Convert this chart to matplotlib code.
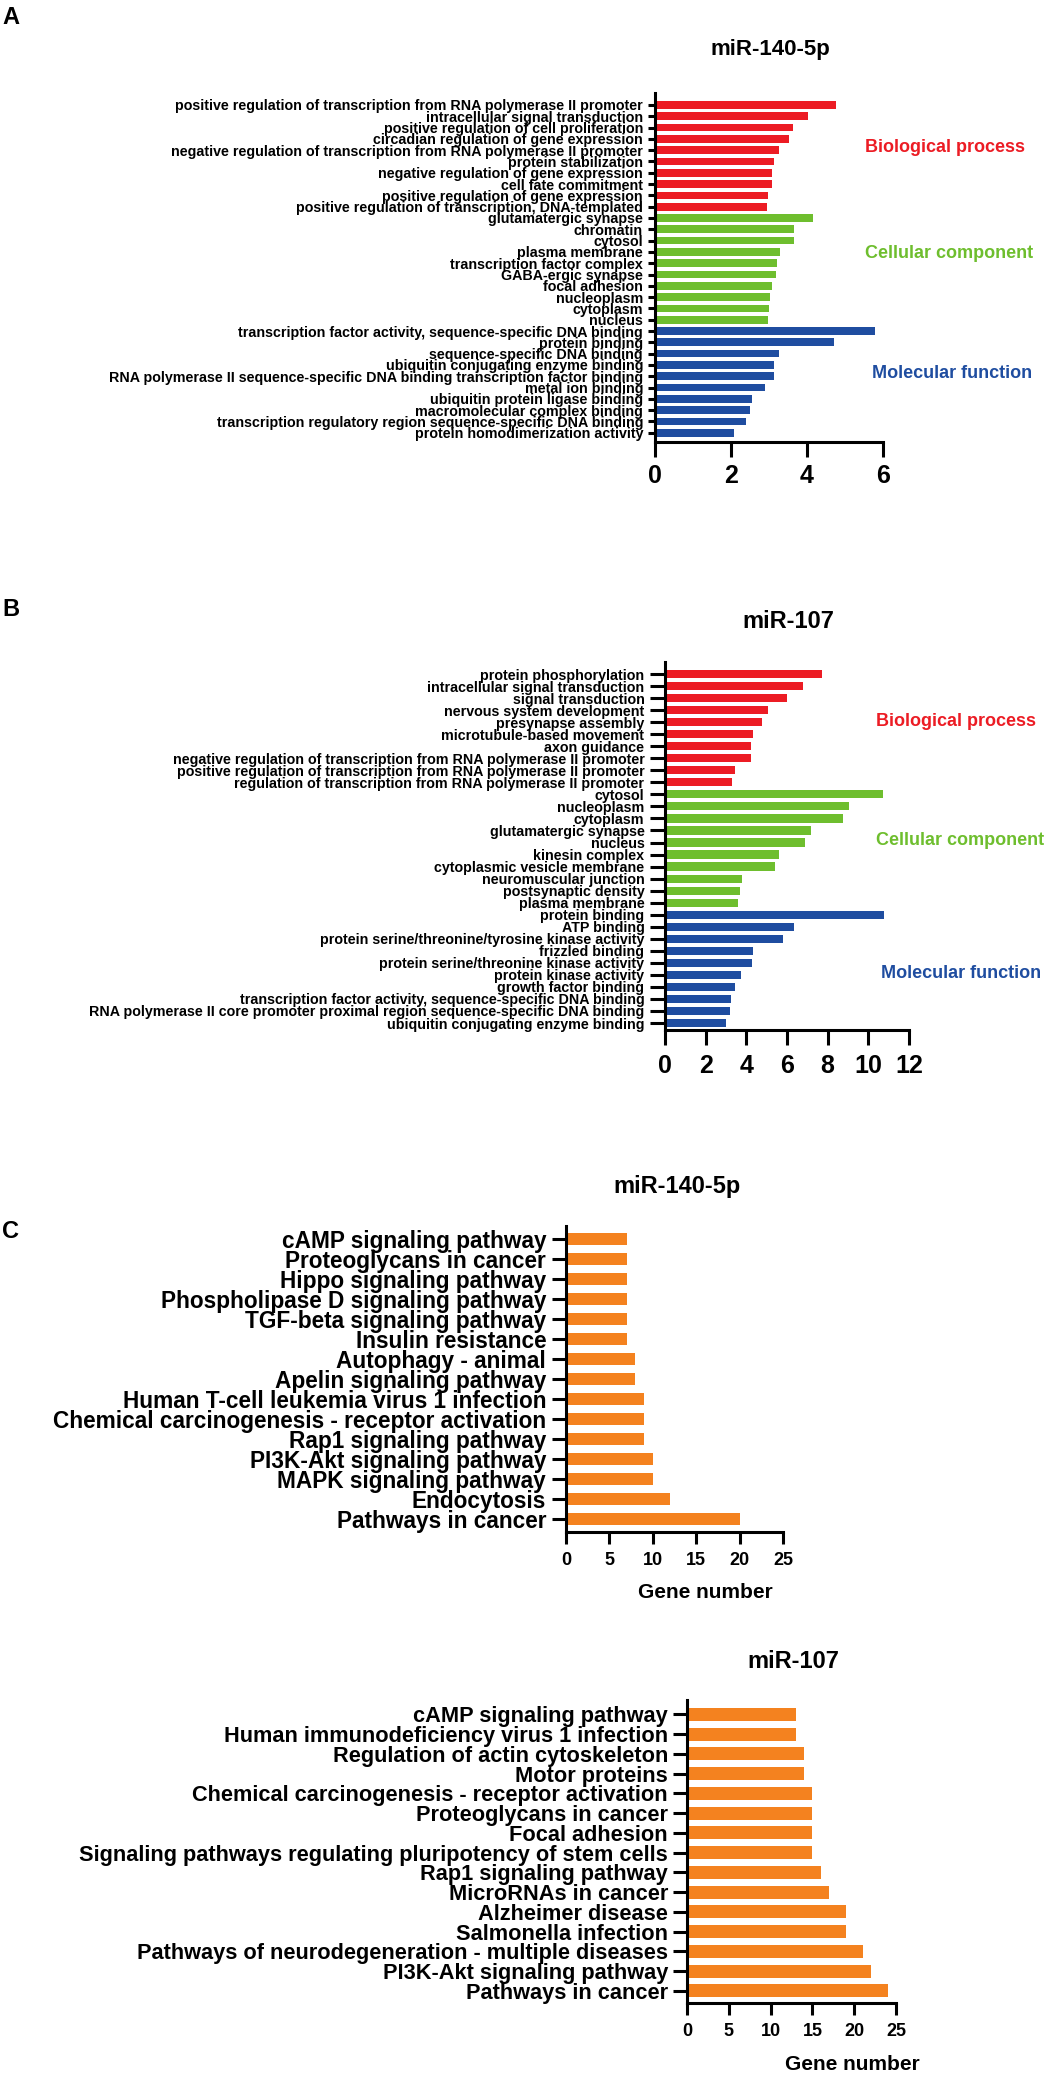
import matplotlib
matplotlib.use("Agg")
import matplotlib.pyplot as plt
import numpy as np

plt.rcParams['font.family'] = ['Liberation Sans', 'DejaVu Sans']
plt.rcParams['font.weight'] = 'bold'

# ---------------- Data ----------------
# Panel A: miR-140-5p GO terms
a_bp_terms = ["positive regulation of transcription from RNA polymerase II promoter",
              "intracellular signal transduction",
              "positive regulation of cell proliferation",
              "circadian regulation of gene expression",
              "negative regulation of transcription from RNA polymerase II promoter",
              "protein stabilization",
              "negative regulation of gene expression",
              "cell fate commitment",
              "positive regulation of gene expression",
              "positive regulation of transcription, DNA-templated"]
a_bp_values = [4.76, 4.03, 3.64, 3.53, 3.25, 3.14, 3.07, 3.07, 2.97, 2.95]
a_cc_terms = ["glutamatergic synapse", "chromatin", "cytosol", "plasma membrane",
              "transcription factor complex", "GABA-ergic synapse", "focal adhesion",
              "nucleoplasm", "cytoplasm", "nucleus"]
a_cc_values = [4.17, 3.67, 3.67, 3.30, 3.21, 3.18, 3.07, 3.02, 3.00, 2.98]
a_mf_terms = ["transcription factor activity, sequence-specific DNA binding",
              "protein binding",
              "sequence-specific DNA binding",
              "ubiquitin conjugating enzyme binding",
              "RNA polymerase II sequence-specific DNA binding transcription factor binding",
              "metal ion binding",
              "ubiquitin protein ligase binding",
              "macromolecular complex binding",
              "transcription regulatory region sequence-specific DNA binding",
              "protein homodimerization activity"]
a_mf_values = [5.79, 4.72, 3.25, 3.14, 3.14, 2.89, 2.56, 2.49, 2.40, 2.08]
a_ticks = [0, 2, 4, 6]

# Panel B: miR-107 GO terms
b_bp_terms = ["protein phosphorylation", "intracellular signal transduction",
              "signal transduction", "nervous system development",
              "presynapse assembly", "microtubule-based movement", "axon guidance",
              "negative regulation of transcription from RNA polymerase II promoter",
              "positive regulation of transcription from RNA polymerase II promoter",
              "regulation of transcription from RNA polymerase II promoter"]
b_bp_values = [7.70, 6.80, 6.01, 5.06, 4.75, 4.35, 4.22, 4.22, 3.45, 3.30]
b_cc_terms = ["cytosol", "nucleoplasm", "cytoplasm", "glutamatergic synapse", "nucleus",
              "kinesin complex", "cytoplasmic vesicle membrane", "neuromuscular junction",
              "postsynaptic density", "plasma membrane"]
b_cc_values = [10.71, 9.06, 8.75, 7.16, 6.88, 5.63, 5.40, 3.78, 3.71, 3.61]
b_mf_terms = ["protein binding", "ATP binding",
              "protein serine/threonine/tyrosine kinase activity", "frizzled binding",
              "protein serine/threonine kinase activity", "protein kinase activity",
              "growth factor binding",
              "transcription factor activity, sequence-specific DNA binding",
              "RNA polymerase II core promoter proximal region sequence-specific DNA binding",
              "ubiquitin conjugating enzyme binding"]
b_mf_values = [10.76, 6.35, 5.78, 4.33, 4.27, 3.73, 3.42, 3.25, 3.19, 3.00]
b_ticks = [0, 2, 4, 6, 8, 10, 12]

# Panel C: KEGG miR-140-5p
c_terms = ["cAMP signaling pathway", "Proteoglycans in cancer", "Hippo signaling pathway",
           "Phospholipase D signaling pathway", "TGF-beta signaling pathway",
           "Insulin resistance", "Autophagy - animal", "Apelin signaling pathway",
           "Human T-cell leukemia virus 1 infection",
           "Chemical carcinogenesis - receptor activation", "Rap1 signaling pathway",
           "PI3K-Akt signaling pathway", "MAPK signaling pathway", "Endocytosis",
           "Pathways in cancer"]
c_values = [7, 7, 7, 7, 7, 7, 8, 8, 9, 9, 9, 10, 10, 12, 20]

# Panel D: KEGG miR-107
d_terms = ["cAMP signaling pathway", "Human immunodeficiency virus 1 infection",
           "Regulation of actin cytoskeleton", "Motor proteins",
           "Chemical carcinogenesis - receptor activation", "Proteoglycans in cancer",
           "Focal adhesion", "Signaling pathways regulating pluripotency of stem cells",
           "Rap1 signaling pathway", "MicroRNAs in cancer", "Alzheimer disease",
           "Salmonella infection", "Pathways of neurodegeneration - multiple diseases",
           "PI3K-Akt signaling pathway", "Pathways in cancer"]
d_values = [13, 13, 14, 14, 15, 15, 15, 15, 16, 17, 19, 19, 21, 22, 24]
cd_ticks = [0, 5, 10, 15, 20, 25]

RED = "#EC1C24"
GREEN = "#6EBE2E"
BLUE = "#1F4DA0"
ORANGE = "#F4821F"

W, H = 1058, 2075
fig = plt.figure(figsize=(W / 100, H / 100), dpi=100)


def add_ax(left, right, top, bottom):
    return fig.add_axes([left / W, 1 - bottom / H, (right - left) / W, (bottom - top) / H])


def ftext(x, y, s, **kw):
    fig.text(x / W, 1 - y / H, s, **kw)


def style(ax, ticks, lw=2.2, ylen=5, ypad=3.6, xlen=10.8, xpad=5, xfs=18, yfs=10.3):
    for s in ["top", "right"]:
        ax.spines[s].set_visible(False)
    for s in ["left", "bottom"]:
        ax.spines[s].set_linewidth(lw)
    ax.set_xticks(ticks)
    ax.set_xticklabels([str(t) for t in ticks], fontsize=xfs, fontweight='bold')
    ax.set_xlim(ticks[0], ticks[-1])
    ax.tick_params(axis='x', length=xlen, width=lw, pad=xpad)
    ax.tick_params(axis='y', length=ylen, width=lw, pad=ypad, labelsize=yfs)


def go_panel(ax, terms, values, colors, ticks, ylim, **kw):
    y = np.arange(len(terms))
    ax.barh(y, values, height=0.68, color=colors)
    ax.set_yticks(y)
    ax.set_yticklabels(terms, fontweight='bold')
    ax.set_ylim(*ylim)
    style(ax, ticks, **kw)


# ---- Panel A ----
axA = add_ax(655, 883, 93, 442)
termsA = a_bp_terms + a_cc_terms + a_mf_terms
valsA = a_bp_values + a_cc_values + a_mf_values
colsA = [RED] * len(a_bp_terms) + [GREEN] * len(a_cc_terms) + [BLUE] * len(a_mf_terms)
go_panel(axA, termsA, valsA, colsA, a_ticks, (29.82, -1.06), ylen=5, ypad=3.6, xpad=5)
ftext(770, 49, "miR-140-5p", ha='center', va='center', fontsize=16, fontweight='bold')
ftext(865, 148, "Biological process", ha='left', va='center', fontsize=13, fontweight='bold', color=RED)
ftext(865, 254, "Cellular component", ha='left', va='center', fontsize=13, fontweight='bold', color=GREEN)
ftext(872, 373, "Molecular function", ha='left', va='center', fontsize=13, fontweight='bold', color=BLUE)
ftext(2, 17, "A", ha='left', va='center', fontsize=17, fontweight='bold')

# ---- Panel B ----
axB = add_ax(665, 909, 662, 1030)
termsB = b_bp_terms + b_cc_terms + b_mf_terms
valsB = b_bp_values + b_cc_values + b_mf_values
colsB = [RED] * len(b_bp_terms) + [GREEN] * len(b_cc_terms) + [BLUE] * len(b_mf_terms)
go_panel(axB, termsB, valsB, colsB, b_ticks, (29.58, -1.0), ylen=10.5, ypad=4.3, xpad=6.5)
ftext(788, 622, "miR-107", ha='center', va='center', fontsize=17, fontweight='bold')
ftext(876, 721, "Biological process", ha='left', va='center', fontsize=13, fontweight='bold', color=RED)
ftext(876, 840, "Cellular component", ha='left', va='center', fontsize=13, fontweight='bold', color=GREEN)
ftext(881, 973, "Molecular function", ha='left', va='center', fontsize=13, fontweight='bold', color=BLUE)
ftext(2, 609, "B", ha='left', va='center', fontsize=17, fontweight='bold')

# ---- Panel C ----
axC = add_ax(566, 783, 1226, 1532)
yc = np.arange(len(c_terms))
axC.barh(yc, c_values, height=0.64, color=ORANGE)
axC.set_yticks(yc)
axC.set_yticklabels(c_terms, fontweight='bold')
axC.set_ylim(14.65, -0.65)
style(axC, cd_ticks, ylen=10, ypad=4.3, xlen=8.6, xpad=6, xfs=13, yfs=16.3)
ftext(677, 1187, "miR-140-5p", ha='center', va='center', fontsize=17, fontweight='bold')
ftext(705, 1593, "Gene number", ha='center', va='center', fontsize=15, fontweight='bold')
ftext(2, 1232, "C", ha='left', va='center', fontsize=17, fontweight='bold')

# ---- Panel D ----
axD = add_ax(687, 896, 1700, 2003)
yd = np.arange(len(d_terms))
axD.barh(yd, d_values, height=0.66, color=ORANGE)
axD.set_yticks(yd)
axD.set_yticklabels(d_terms, fontweight='bold')
axD.set_ylim(14.61, -0.73)
style(axD, cd_ticks, ylen=10, ypad=3.6, xlen=8.6, xpad=5.5, xfs=13, yfs=15.7)
ftext(793, 1662, "miR-107", ha='center', va='center', fontsize=17, fontweight='bold')
ftext(852, 2065, "Gene number", ha='center', va='center', fontsize=15, fontweight='bold')

fig.savefig("out.png", dpi=100)
